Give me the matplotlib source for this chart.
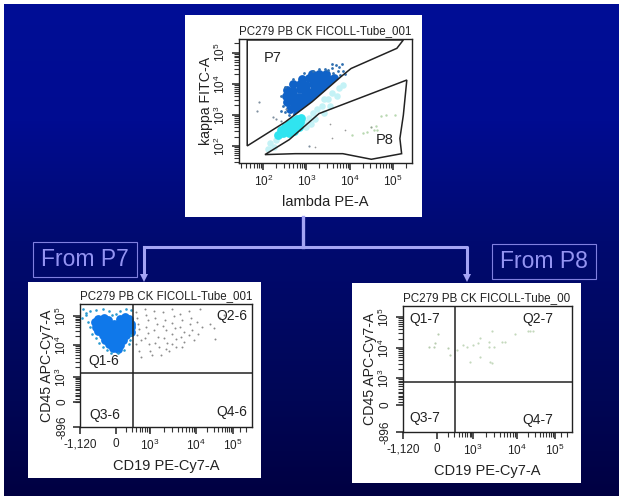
import numpy as np
import matplotlib
matplotlib.use('Agg')
import matplotlib.pyplot as plt
from matplotlib.patches import Rectangle, Polygon

plt.rcParams['font.family'] = ['Liberation Sans', 'DejaVu Sans']
plt.rcParams['mathtext.fontset'] = 'custom'
plt.rcParams['mathtext.rm'] = 'Liberation Sans'

title_top = 'PC279 PB CK FICOLL-Tube_001'
title_right = 'PC279 PB CK FICOLL-Tube_00'

# top plot, x and y are log10 of the signal
p7_gate = [(1.63,5.41),(5.24,5.41),(5.09,5.14),(4.03,4.49),(3.8,4.23),(3.13,3.42),(2.51,2.77),(1.63,2.0)]
p8_gate = [(2.04,1.72),(2.6,2.2),(3.29,3.04),(5.32,4.12),(5.24,2.99),(5.16,2.24),(5.2,1.75),(4.5,1.57),(3.84,1.75),(2.74,1.75)]
p7_core = [(2.78,3.02),(2.92,3.1),(2.62,3.2),(2.76,3.22),(2.9,3.25),(3.04,3.3),
           (2.56,3.4),(2.7,3.42),(2.85,3.4),(3.0,3.45),(3.14,3.5),
           (2.52,3.6),(2.66,3.62),(2.8,3.58),(2.95,3.6),(3.1,3.62),(3.24,3.64),(3.33,3.72),
           (2.56,3.8),(2.7,3.78),(2.85,3.82),(3.0,3.8),(3.15,3.78),(3.3,3.84),(3.44,3.9),
           (2.7,3.98),(2.85,4.0),(3.0,3.96),(3.15,4.0),(3.3,3.98),(3.45,4.02),(3.58,4.06),
           (2.9,4.16),(3.05,4.18),(3.2,4.14),(3.35,4.18),(3.5,4.16),(3.64,4.18),
           (3.12,4.32),(3.3,4.3),(3.45,4.32)]
p7_edge = [(3.62,4.36),(3.72,4.4),(3.6,4.5),(3.75,4.55),(3.85,4.4),(3.5,4.45),(3.82,4.62),(3.42,4.48),
           (3.9,4.3),(3.68,4.6),(3.3,4.46),(2.95,4.34),(2.7,4.16),(2.5,3.9),(2.42,3.6),(2.45,3.3),
           (2.6,3.0),(2.5,3.08),(2.42,3.12),(3.78,4.28),(3.15,4.42),(3.58,4.65)]
p7_stray = [(1.9,3.42),(1.85,3.12),(2.22,2.93),(2.3,2.85),(2.4,2.8),(2.52,3.2),(3.05,2.0)]
cyan_core = [(2.45,2.42),(2.55,2.5),(2.65,2.58),(2.75,2.68),(2.85,2.76),(2.35,2.35),(2.6,2.4),(2.72,2.48),(2.82,2.62),
             (2.4,2.52),(2.5,2.6),(2.6,2.72),(2.7,2.8),(2.78,2.86),(2.88,2.9)]
cyan_pale = [(2.95,2.78),(3.05,2.9),(3.15,3.05),(3.25,3.2),(3.35,3.3),(3.5,3.5),(3.6,3.7),(3.75,3.85),(3.85,3.95),
             (3.0,2.6),(3.2,2.85),(3.4,3.05),(3.55,3.3),(2.15,2.1),(2.25,1.98),(2.3,2.2),(2.1,1.9),(3.1,2.7),(3.4,3.5),(3.7,3.6)]
p8_green = [(4.5,2.6),(4.55,2.5),(4.4,2.45),(4.3,2.4),(4.6,2.65),(4.72,2.95),(5.05,3.0),(4.85,3.0),(4.05,2.35),(4.62,2.5)]
p8_gray = [(3.55,2.7),(3.6,2.25),(3.9,2.5),(3.2,1.95),(4.5,2.6)]

# lower left plot, positions on the biexponential axes
q1_core = [(1.78,4.88),(1.92,4.9),(2.02,4.84),(2.3,4.88),(2.42,4.92),(2.52,4.86),
           (1.72,4.76),(1.86,4.74),(2.0,4.76),(2.15,4.72),(2.3,4.76),(2.45,4.74),(2.56,4.72),
           (1.74,4.62),(1.86,4.62),(2.0,4.6),(2.14,4.64),(2.28,4.6),(2.42,4.63),(2.56,4.6),
           (1.8,4.48),(1.92,4.48),(2.06,4.46),(2.2,4.5),(2.34,4.46),(2.48,4.48),(2.56,4.46),
           (1.9,4.34),(2.02,4.32),(2.16,4.34),(2.3,4.32),(2.44,4.34),
           (1.96,4.2),(2.08,4.18),(2.22,4.16),(2.36,4.18),(2.04,4.06),(2.16,4.03),(2.3,4.04),(2.14,3.92),(2.26,3.9)]
q1_edge = [(1.45,5.2),(1.52,5.05),(1.42,4.9),(1.6,5.12),(1.75,5.16),(1.9,5.2),(2.05,5.12),(2.2,5.04),(2.3,5.14),
           (2.45,5.18),(2.55,5.16),(1.55,4.78),(1.6,4.6),(1.65,4.4),(1.74,4.25),(1.82,4.1),(1.9,3.95),(2.0,3.88),
           (2.1,3.76),(2.25,3.76),(2.4,3.88),(2.5,4.05),(2.54,4.2),(2.56,4.35),(1.5,4.98),(2.12,5.0)]
q2_gray = [(2.68,5.1),(2.7,4.9),(2.72,4.72),(2.75,4.55),(2.7,4.35),(2.78,4.2),(2.68,4.05),(2.74,3.85),(2.8,3.65),
           (2.88,5.18),(2.9,5.0),(2.95,4.82),(2.9,4.62),(2.95,4.42),(2.88,4.25),(2.98,4.05),(3.0,3.85),(3.05,3.7),
           (3.1,5.12),(3.12,4.9),(3.15,4.7),(3.1,4.5),(3.18,4.3),(3.12,4.1),(3.2,3.95),(3.25,3.7),
           (3.3,5.08),(3.35,4.85),(3.3,4.65),(3.38,4.5),(3.32,4.25),(3.4,4.1),(3.36,3.9),(3.45,3.85),
           (3.5,5.18),(3.55,4.95),(3.5,4.75),(3.58,4.58),(3.5,4.4),(3.6,4.22),(3.52,4.05),(3.6,3.95),
           (3.7,5.02),(3.75,4.82),(3.7,4.62),(3.78,4.45),(3.72,4.28),(3.8,4.12),(3.75,3.98),
           (3.9,5.12),(3.95,4.9),(3.92,4.7),(3.98,4.5),(3.9,4.35),(4.02,4.18),(4.15,5.2),(4.1,4.78),(4.2,4.6),
           (4.12,4.4),(4.4,4.72),(4.48,4.58),(4.5,4.22),(4.62,4.9),(4.72,5.0)]

# lower right plot
q1_7_pts = [(2.17,4.41),(1.95,4.01),(2.07,4.01),(2.10,4.12),(2.41,3.96),(2.45,3.74)]
q2_7_pts = [(2.61,3.9),(2.77,4.06),(2.85,4.01),(3.0,4.06),(3.17,4.28),(3.13,4.12),(3.37,4.17),(3.45,4.5),(3.49,4.01),
            (3.37,4.01),(2.93,3.53),(3.17,3.69),(3.41,3.53),(3.45,3.48),(3.68,4.17),(3.76,4.17),(4.0,4.41),(4.3,4.5),
            (4.35,4.5),(4.43,4.52)]

w, h = 624, 500
fig = plt.figure(figsize=(w/100, h/100), dpi=100, facecolor='white')


def box_axes(x0, y0, x1, y1):
    # pixel box, y counted from the top of the picture
    return fig.add_axes([x0/w, 1-y1/h, (x1-x0)/w, (y1-y0)/h])


bg = box_axes(0, 0, w, h)
bg.set_xlim(0, w)
bg.set_ylim(h, 0)
bg.axis('off')
stops = np.array([[0, 0, 14, 150], [120, 0, 12, 145], [240, 0, 10, 112], [400, 0, 6, 85], [500, 0, 0, 65]], dtype=float)
rows = np.arange(4, 496)
grad = np.stack([np.interp(rows, stops[:, 0], stops[:, i]) for i in (1, 2, 3)], axis=1)[:, None, :] / 255
bg.imshow(grad, extent=(4, 619, 496, 4), aspect='auto', zorder=0)
bg.set_xlim(0, w)
bg.set_ylim(h, 0)

for x0, y0, x1, y1 in [(185, 15, 422, 217), (28, 282, 261, 478), (352, 283, 581, 483)]:
    bg.add_patch(Rectangle((x0, y0), x1-x0, y1-y0, fc='white', ec='none', zorder=1))

lav = '#a4a4f4'
bg.plot([303, 303], [217, 247], color=lav, lw=2.4, zorder=2)
bg.plot([144, 467, 467], [247, 247, 275], color=lav, lw=2.2, zorder=2)
bg.plot([144, 144], [247, 275], color=lav, lw=2.2, zorder=2)
for ax_x in (144, 467):
    bg.add_patch(Polygon([(ax_x-4, 274), (ax_x+4, 274), (ax_x, 282)], fc=lav, ec='none', zorder=2))

for x0, y0, x1, y1, s in [(33, 242, 137, 277, 'From P7'), (492, 244, 596, 279, 'From P8')]:
    bg.add_patch(Rectangle((x0, y0), x1-x0, y1-y0, fc='none', ec='#8080e0', lw=0.8, zorder=2))
    bg.text((x0+x1)/2, (y0+y1)/2+0.5, s, color='#9494f2', fontsize=16.5, ha='center', va='center', zorder=3)


def setup(ax, xmajor, xlabels, ymajor, ylabels, xminor, yminor, xlabel, ylabel, title, title_size):
    ax.set_xticks(xmajor)
    ax.set_xticklabels(xlabels, fontsize=8.5, color='#222222')
    ax.set_yticks(ymajor)
    ax.set_yticklabels(ylabels, fontsize=8.5, rotation=90, va='center', color='#222222')
    ax.set_xticks(xminor, minor=True)
    ax.set_yticks(yminor, minor=True)
    ax.tick_params(which='major', length=5, width=1.1, pad=3, color='#222222')
    ax.tick_params(which='minor', length=3.5, width=0.8, color='#333333')
    ax.set_xlabel(xlabel, fontsize=10.5, color='#222222', labelpad=4)
    ax.set_ylabel(ylabel, fontsize=10.2, color='#222222', labelpad=0)
    ax.text(0.0, 1.012, title, transform=ax.transAxes, fontsize=title_size, color='#222222', va='bottom', ha='left')
    for sp in ax.spines.values():
        sp.set_linewidth(1.0)
        sp.set_color('#222222')


def log_minor(majors):
    out = []
    for a, b in zip(majors[:-1], majors[1:]):
        out += [a + np.log10(k)*(b-a) for k in range(2, 10)]
    return out


def pts(ax, data, color, size, z=3, clip=None):
    xy = np.array(data)
    sc = ax.scatter(xy[:, 0], xy[:, 1], s=size, c=color, linewidths=0, zorder=z)
    if clip is not None:
        sc.set_clip_path(clip)
    return sc


# top plot
top = box_axes(239, 39, 412, 163)
dec = [2, 3, 4, 5]
dec_lab = ['$\\mathregular{10^{%d}}$' % d for d in dec]
setup(top, dec, dec_lab, dec, dec_lab, log_minor([1, 2, 3, 4, 5, 6]), log_minor([1, 2, 3, 4, 5, 6]),
      'lambda PE-A', 'kappa FITC-A', title_top, 8.3)
top.set_xlim(1.44, 5.44)
top.set_ylim(1.45, 5.44)
p7_shape = top.add_patch(Polygon(p7_gate, fc='none', ec='#222222', lw=1.1, zorder=4))
top.add_patch(Polygon(p8_gate, fc='none', ec='#222222', lw=1.1, zorder=4))
pts(top, cyan_pale, '#c4f2f6', 22, 2)
pts(top, cyan_core, '#30e4f0', 40, 2)
pts(top, p7_core, '#0f62c8', 40, clip=p7_shape)
pts(top, p7_edge, '#2f6fb0', 4)
pts(top, p7_stray, '#7f8f9f', 2.5)
pts(top, p8_green, '#b8d8b0', 3)
pts(top, p8_gray, '#999999', 1.5)
top.text(2.23, 4.82, 'P7', fontsize=10.5, color='#222222', ha='center', va='center')
top.text(4.8, 2.18, 'P8', fontsize=10.5, color='#222222', ha='center', va='center')

# lower plots
xl_major = [1.37, 2.2, 3, 4.07, 4.93]
yl_major = [1.39, 2.19, 3, 4.03, 4.97]
xl_lab = ['-1,120', '0', '$\\mathregular{10^{3}}$', '$\\mathregular{10^{4}}$', '$\\mathregular{10^{5}}$']
yl_lab = ['-896', '0', '$\\mathregular{10^{3}}$', '$\\mathregular{10^{4}}$', '$\\mathregular{10^{5}}$']

left = box_axes(80, 304, 252, 427)
setup(left, xl_major, xl_lab, yl_major, yl_lab,
      log_minor([2.2, 3]) + log_minor([3, 4.07]) + log_minor([4.07, 4.93]) + [5.1, 5.23],
      [2.2, 2.3, 2.4, 2.5, 2.6] + log_minor([2.19, 3]) + log_minor([3, 4.03]) + log_minor([4.03, 4.97]),
      'CD19 PE-Cy7-A', 'CD45 APC-Cy7-A', title_top, 8.3)
left.set_xlim(1.37, 5.37)
left.set_ylim(1.39, 5.35)
pts(left, q1_core, '#0f78ea', 40)
pts(left, q1_edge, '#2a9ad0', 3.5)
pts(left, q2_gray, '#8c8c8c', 2)
left.axvline(2.6, color='#222222', lw=1.1, zorder=4)
left.axhline(3.13, color='#222222', lw=1.1, zorder=4)
left.text(1.93, 3.52, 'Q1-6', fontsize=10, color='#222222', ha='center', va='center', zorder=5)
left.text(1.95, 1.77, 'Q3-6', fontsize=10, color='#222222', ha='center', va='center')
left.text(4.91, 4.97, 'Q2-6', fontsize=10, color='#222222', ha='center', va='center')
left.text(4.91, 1.87, 'Q4-6', fontsize=10, color='#222222', ha='center', va='center')

xr_major = [1.33, 2.14, 3, 4.05, 4.95]
yr_major = [1.26, 2.13, 3, 3.97, 4.97]
right = box_axes(403, 306, 572, 432)
setup(right, xr_major, xl_lab, yr_major, yl_lab,
      log_minor([2.14, 3]) + log_minor([3, 4.05]) + log_minor([4.05, 4.95]) + [5.1, 5.25],
      [2.13, 2.23, 2.33, 2.43, 2.53] + log_minor([2.13, 3]) + log_minor([3, 3.97]) + log_minor([3.97, 4.97]),
      'CD19 PE-Cy7-A', 'CD45 APC-Cy7-A', title_right, 8.4)
right.set_xlim(1.33, 5.36)
right.set_ylim(1.26, 5.32)
pts(right, q1_7_pts, '#b8ccb0', 2.5)
pts(right, q2_7_pts, '#c4d8bc', 2.5)
right.axvline(2.57, color='#222222', lw=1.1, zorder=4)
right.axhline(2.87, color='#222222', lw=1.1, zorder=4)
right.text(1.85, 4.9, 'Q1-7', fontsize=10, color='#222222', ha='center', va='center')
right.text(1.85, 1.71, 'Q3-7', fontsize=10, color='#222222', ha='center', va='center')
right.text(4.55, 4.9, 'Q2-7', fontsize=10, color='#222222', ha='center', va='center')
right.text(4.55, 1.65, 'Q4-7', fontsize=10, color='#222222', ha='center', va='center')

fig.savefig('out.png', dpi=100)
